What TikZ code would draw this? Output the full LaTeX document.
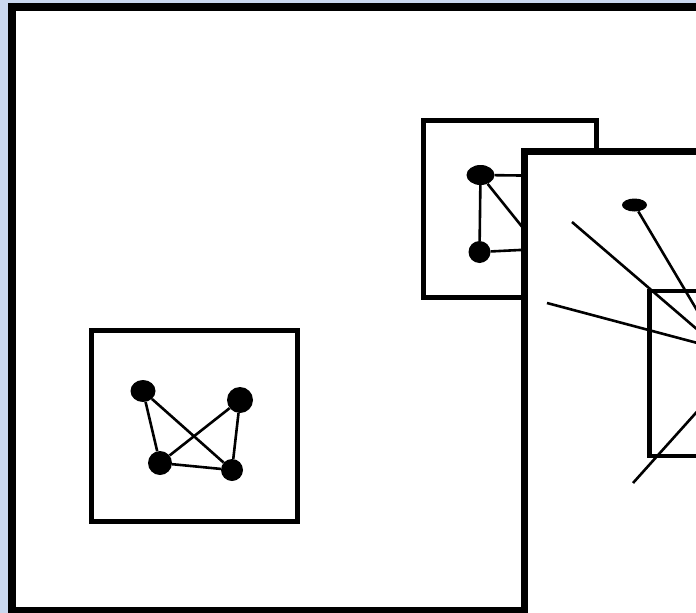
\documentclass[tikz,border=0pt]{standalone}
\usetikzlibrary{shapes.geometric}
\definecolor{deskblue}{HTML}{CAD8EF}
\tikzset{
  frame/.style={draw=black, fill=white, line width=#1},
  vertex/.style={ellipse, fill=black, inner sep=0pt, minimum width=#1},
  link/.style={line width=2.6pt, draw=black},
}
\begin{document}
\begin{tikzpicture}[x=1pt, y=-1pt]
\useasboundingbox (0,0) rectangle (696,613);
\clip (0,0) rectangle (696,613);
\fill[deskblue] (0,0) rectangle (696,613);

% outer window
\draw[frame=8pt] (12,7) rectangle (760,611);

% lower-left graph
\draw[frame=5pt] (91.5,330.5) rectangle (297.5,521.5);
\node[vertex=25pt, minimum height=22pt] (a1) at (143,391) {};
\node[vertex=26pt, minimum height=26pt] (a2) at (240,400) {};
\node[vertex=24pt, minimum height=24pt] (a3) at (160,463) {};
\node[vertex=22pt, minimum height=22pt] (a4) at (232,470) {};
\draw[link] (a1) -- (a3);
\draw[link] (a1) -- (a4);
\draw[link] (a2) -- (a3);
\draw[link] (a2) -- (a4);
\draw[link] (a3) -- (a4);

% upper graph, partly covered
\draw[frame=5pt] (423.5,120.5) rectangle (596,297.5);
\node[vertex=28pt, minimum height=20pt] (b1) at (480.5,175) {};
\node[vertex=22pt, minimum height=22pt] (b2) at (479.5,252) {};
\coordinate (b3) at (600,176.5);
\coordinate (b4) at (600,246);
\coordinate (b5) at (560,274);
\draw[link] (b1) -- (b2);
\draw[link] (b1) -- (b3);
\draw[link] (b1) -- (b5);
\draw[link] (b2) -- (b4);

% front window
\draw[frame=7pt] (524,151) rectangle (760,660);
\draw[frame=4.5pt] (649.5,291) rectangle (780,456);
\node[vertex=25pt, minimum height=13pt] (c1) at (634.5,205) {};
\coordinate (hub) at (720,349);
\coordinate (hub2) at (720,386);
\coordinate (c2) at (572,222);
\coordinate (c3) at (547,303);
\coordinate (c4) at (633,483);
\draw[link] (c1) -- (hub);
\draw[link] (c2) -- (hub);
\draw[link] (c3) -- (hub);
\draw[link] (c4) -- (hub2);
\end{tikzpicture}
\end{document}
